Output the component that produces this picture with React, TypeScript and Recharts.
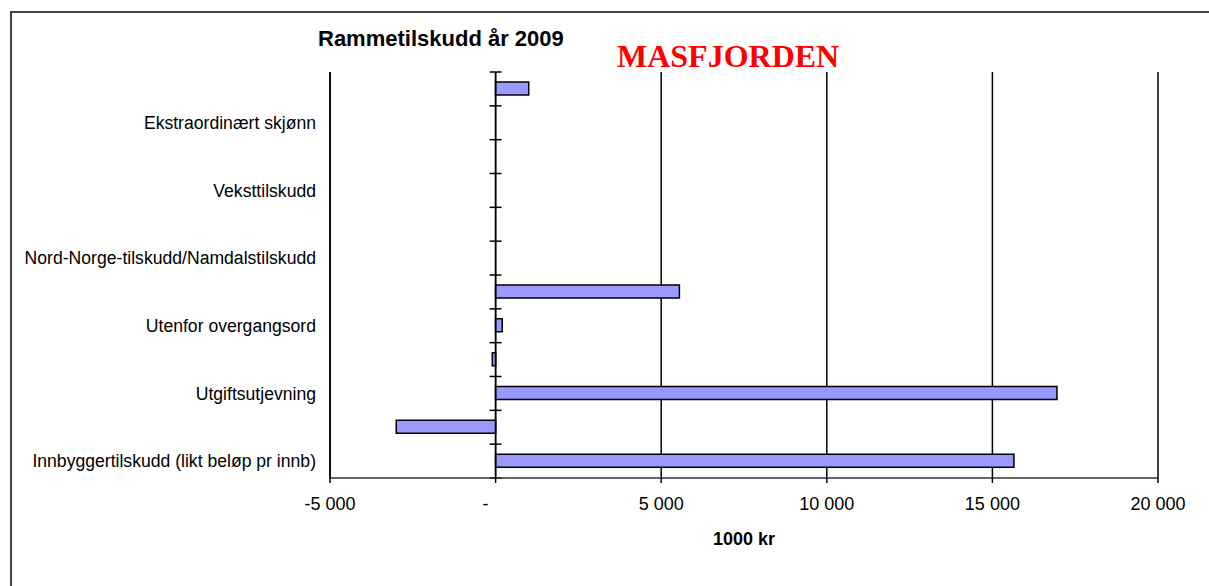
import { BarChart, Bar, XAxis, YAxis, CartesianGrid, ReferenceLine } from 'recharts';

// categories top to bottom; the unlabeled rows have no readable name in the source
const categoryLabels = [
  '',
  'Ekstraordinært skjønn',
  '',
  'Veksttilskudd',
  '',
  'Nord-Norge-tilskudd/Namdalstilskudd',
  '',
  'Utenfor overgangsord',
  '',
  'Utgiftsutjevning',
  '',
  'Innbyggertilskudd (likt beløp pr innb)',
];
const amounts = [1000, 0, 0, 0, 0, 0, 5550, 200, -100, 16950, -3000, 15650];
const xTicks = [-5000, 0, 5000, 10000, 15000, 20000];

const rows = categoryLabels.map((label, i) => ({ slot: `c${i}`, label, value: amounts[i] }));

// cross ticks of the category axis sit on band edges: the top edge of every row plus the bottom of the last one
const edgeMarks = [
  ...rows.map((r) => ({ slot: r.slot, position: 'start' as const })),
  { slot: rows[rows.length - 1].slot, position: 'end' as const },
];

const FONT = '"Liberation Sans", Arial, sans-serif';

function formatTick(v: number) {
  if (v === 0) return '-';
  const s = Math.abs(v).toString().replace(/\B(?=(\d{3})+(?!\d))/g, ' ');
  return v < 0 ? `-${s}` : s;
}

function XTick({ x, y, payload }: { x?: number; y?: number; payload?: { value: number } }) {
  const v = payload?.value ?? 0;
  return (
    <text
      x={(x ?? 0) + (v === 0 ? -10 : 0)}
      y={y}
      dy="0.71em"
      textAnchor="middle"
      fontFamily={FONT}
      fontSize={18}
      fill="#000"
    >
      {formatTick(v)}
    </text>
  );
}

function CategoryTick({ x, y, payload }: { x?: number; y?: number; payload?: { value: string } }) {
  const row = rows.find((r) => r.slot === payload?.value);
  if (!row || !row.label) return null;
  return (
    <text x={x} y={y} dy="0.36em" textAnchor="end" fontFamily={FONT} fontSize={17.6} fill="#000">
      {row.label}
    </text>
  );
}

export default function App() {
  return (
    <div style={{ position: 'absolute', left: 0, top: 0, width: 1209, height: 586, background: '#fff' }}>
      <div
        style={{
          position: 'absolute',
          left: 10,
          top: 11,
          right: 0,
          bottom: 0,
          borderTop: '2px solid #444',
          borderLeft: '2px solid #444',
        }}
      />
      <div
        style={{
          position: 'absolute',
          left: 318,
          top: 28,
          fontFamily: FONT,
          fontWeight: 'bold',
          fontSize: 22,
          lineHeight: 1,
          whiteSpace: 'nowrap',
        }}
      >
        Rammetilskudd år 2009
      </div>
      <div
        style={{
          position: 'absolute',
          left: 617,
          top: 40,
          fontFamily: '"Liberation Serif", "Times New Roman", serif',
          fontWeight: 'bold',
          fontSize: 32,
          lineHeight: 1,
          color: '#ff0000',
          whiteSpace: 'nowrap',
        }}
      >
        MASFJORDEN
      </div>
      <div style={{ position: 'absolute', left: 0, top: 0 }}>
        <BarChart
          width={1209}
          height={586}
          layout="vertical"
          data={rows}
          margin={{ top: 72, right: 51, bottom: 28, left: 0 }}
        >
          <CartesianGrid horizontal={false} stroke="#000" strokeWidth={1.5} />
          <XAxis
            type="number"
            domain={[-5000, 20000]}
            ticks={xTicks}
            interval={0}
            height={80}
            tickSize={5}
            tickMargin={14}
            tickLine={{ stroke: '#000', strokeWidth: 1.5 }}
            axisLine={{ stroke: '#333', strokeWidth: 1.5 }}
            tick={<XTick />}
            label={{
              value: '1000 kr',
              position: 'insideBottom',
              offset: 13,
              style: { fontFamily: FONT, fontWeight: 'bold', fontSize: 18, fill: '#000' },
            }}
          />
          <YAxis
            type="category"
            dataKey="slot"
            width={330}
            interval={0}
            tickSize={0}
            tickMargin={14}
            tickLine={false}
            axisLine={{ stroke: '#000', strokeWidth: 1.5 }}
            tick={<CategoryTick />}
          />
          <Bar
            dataKey="value"
            fill="#9999ff"
            stroke="#000"
            strokeWidth={1.5}
            barSize={13}
            isAnimationActive={false}
          />
          <ReferenceLine x={0} stroke="#000" strokeWidth={1.5} />
          {edgeMarks.map((m, i) => (
            <ReferenceLine
              key={i}
              position={m.position}
              segment={[
                { x: -180, y: m.slot },
                { x: 180, y: m.slot },
              ]}
              stroke="#000"
              strokeWidth={1.5}
              ifOverflow="visible"
            />
          ))}
        </BarChart>
      </div>
    </div>
  );
}
